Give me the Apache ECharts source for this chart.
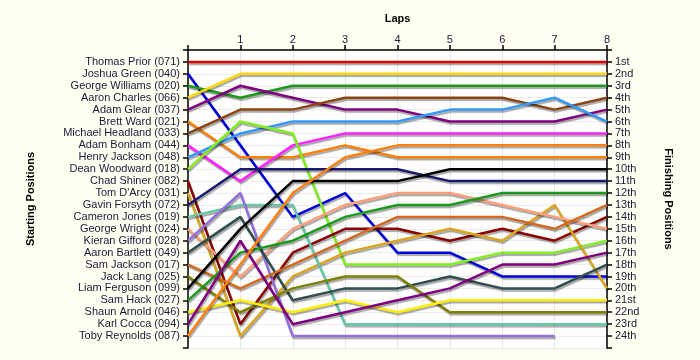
<!DOCTYPE html>
<html>
<head>
<meta charset="utf-8">
<script src="https://cdn.jsdelivr.net/npm/echarts@6/dist/echarts.min.js"></script>
<style>
  html, body { margin: 0; padding: 0; background: #fffff2; }
  #chart { width: 700px; height: 360px; }
</style>
</head>
<body>
<div id="chart"></div>
<script>
// Lap numbers (0 = start)
const laps = [0, 1, 2, 3, 4, 5, 6, 7, 8];

// Drivers in starting order (start position = index + 1)
const startLabels = [
  "Thomas Prior (071)", "Joshua Green (040)", "George Williams (020)", "Aaron Charles (066)",
  "Adam Glear (037)", "Brett Ward (021)", "Michael Headland (033)", "Adam Bonham (044)",
  "Henry Jackson (048)", "Dean Woodward (018)", "Chad Shiner (082)", "Tom D'Arcy (031)",
  "Gavin Forsyth (072)", "Cameron Jones (019)", "George Wright (024)", "Kieran Gifford (028)",
  "Aaron Bartlett (049)", "Sam Jackson (017)", "Jack Lang (025)", "Liam Ferguson (099)",
  "Sam Hack (027)", "Shaun Arnold (046)", "Karl Cocca (094)", "Toby Reynolds (087)"
];

// Finishing position labels
const finishLabels = [
  "1st", "2nd", "3rd", "4th", "5th", "6th", "7th", "8th", "9th", "10th", "11th", "12th",
  "13th", "14th", "15th", "16th", "17th", "18th", "19th", "20th", "21st", "22nd", "23rd", "24th"
];

// Positions after laps 1..8, one row per driver (same order as startLabels)
const lapPositions = [
  [1, 1, 1, 1, 1, 1, 1, 1],          // Thomas Prior
  [8, 14, 12, 17, 17, 19, 19, 19],   // Joshua Green
  [4, 3, 3, 3, 3, 3, 3, 3],          // George Williams
  [2, 2, 2, 2, 2, 2, 2, 2],          // Aaron Charles
  [3, 4, 5, 5, 6, 6, 6, 5],          // Adam Glear
  [9, 9, 8, 9, 9, 9, 9, 9],          // Brett Ward
  [5, 5, 4, 4, 4, 4, 5, 4],          // Michael Headland
  [11, 8, 7, 7, 7, 7, 7, 7],         // Adam Bonham
  [7, 6, 6, 6, 5, 5, 4, 6],          // Henry Jackson
  [6, 7, 18, 18, 18, 17, 17, 16],    // Dean Woodward
  [23, 17, 15, 15, 16, 15, 16, 14],  // Chad Shiner
  [24, 19, 17, 16, 15, 16, 13, 20],  // Tom D'Arcy
  [10, 10, 10, 10, 11, 11, 11, 11],  // Gavin Forsyth
  [13, 13, 23, 23, 23, 23, 23, 23],  // Cameron Jones
  [19, 15, 13, 12, 12, 13, 14, 15],  // George Wright
  [12, 24, 24, 24, 24, 24, 24, null],// Kieran Gifford
  [14, 21, 20, 20, 19, 20, 20, 18],  // Aaron Bartlett
  [20, 18, 16, 14, 14, 14, 15, 13],  // Sam Jackson
  [22, 20, 19, 19, 22, 22, 22, 22],  // Jack Lang
  [15, 11, 11, 11, 10, 10, 10, 10],  // Liam Ferguson
  [17, 16, 14, 13, 13, 12, 12, 12],  // Sam Hack
  [21, 22, 21, 22, 21, 21, 21, 21],  // Shaun Arnold
  [16, 23, 22, 21, 20, 18, 18, 17],  // Karl Cocca
  [18, 12, 9, 8, 8, 8, 8, 8]         // Toby Reynolds
];

const colors = [
  "#e00000", "#0000dd", "#1a9a1a", "#ffd700",
  "#800080", "#ff8000", "#8b4513", "#ff22ff",
  "#3399ff", "#80ee20", "#8b0000", "#daa520",
  "#191970", "#66c8a8", "#ffa07a", "#9370db",
  "#2f4f4f", "#d2691e", "#808000", "#000000",
  "#1a9a1a", "#ffee00", "#800080", "#ff7f10"
];

const textColor = "#1a1a3a";
const font = "Liberation Sans, Arial, sans-serif";

const series = startLabels.map((name, i) => {
  const positions = [i + 1].concat(lapPositions[i]);
  const data = [];
  laps.forEach((lap, k) => {
    if (positions[k] !== null && positions[k] !== undefined) data.push([lap, positions[k]]);
  });
  return {
    name: name,
    type: "line",
    data: data,
    symbol: "none",
    silent: true,
    animation: false,
    lineStyle: {
      color: colors[i],
      width: 2.5,
      shadowColor: "rgba(0,0,0,0.35)",
      shadowBlur: 1,
      shadowOffsetX: 1,
      shadowOffsetY: 2
    }
  };
});

const chart = echarts.init(document.getElementById("chart"), null, { renderer: "canvas" });
chart.setOption({
  backgroundColor: "#fffff2",
  animation: false,
  textStyle: { fontFamily: font },
  grid: {
    left: 188, right: 93, top: 50, bottom: 12,
    show: true, backgroundColor: "#ffffff", borderWidth: 0
  },
  xAxis: {
    type: "value",
    position: "top",
    min: 0, max: 8, interval: 1,
    name: "Laps",
    nameLocation: "middle",
    nameGap: 26,
    nameTextStyle: { fontWeight: "bold", fontSize: 11, color: "#000", fontFamily: font },
    axisLine: { show: true, lineStyle: { color: "#000", width: 1.5 } },
    axisTick: { show: true, length: 5, lineStyle: { color: "#000", width: 1.5 } },
    axisLabel: {
      margin: 5, fontSize: 11, color: textColor, fontFamily: font,
      formatter: v => (v === 0 ? "" : String(v))
    },
    splitLine: { show: true, lineStyle: { color: "#e6e6e6", width: 1 } }
  },
  yAxis: [
    {
      type: "value",
      position: "left",
      inverse: true,
      min: 0, max: 25, interval: 1,
      name: "Starting Positions",
      nameLocation: "middle",
      nameGap: 152,
      nameRotate: 90,
      nameTextStyle: { fontWeight: "bold", fontSize: 11, color: "#000", fontFamily: font },
      axisLine: { show: true, lineStyle: { color: "#000", width: 1.5 } },
      axisTick: { show: true, length: 5, lineStyle: { color: "#000", width: 1.5 } },
      axisLabel: {
        margin: 8, fontSize: 11, color: textColor, fontFamily: font,
        formatter: v => startLabels[v - 1] || ""
      },
      splitLine: { show: true, lineStyle: { color: "#ececec", width: 1 } }
    },
    {
      type: "value",
      position: "right",
      inverse: true,
      min: 0, max: 25, interval: 1,
      name: "Finishing Positions",
      nameLocation: "middle",
      nameGap: 56,
      nameRotate: -90,
      nameTextStyle: { fontWeight: "bold", fontSize: 11, color: "#000", fontFamily: font },
      axisLine: { show: true, lineStyle: { color: "#000", width: 1.5 } },
      axisTick: { show: true, length: 5, lineStyle: { color: "#000", width: 1.5 } },
      axisLabel: {
        margin: 8, fontSize: 11, color: textColor, fontFamily: font,
        formatter: v => finishLabels[v - 1] || ""
      },
      splitLine: { show: false }
    }
  ],
  series: series
});
</script>
</body>
</html>
